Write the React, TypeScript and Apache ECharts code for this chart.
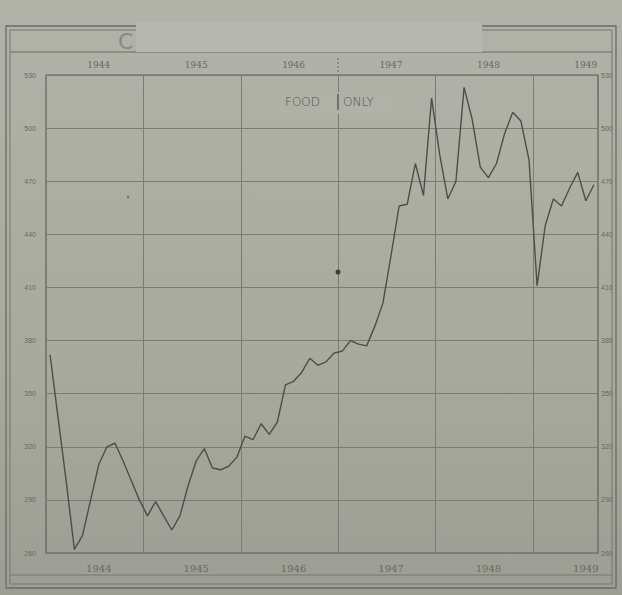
import React, { useEffect, useRef } from "react";
import * as echarts from "echarts";

const years = [1944, 1945, 1946, 1947, 1948, 1949];
const monthsShown = 68; // Jan 1944 .. Aug 1949
const yTicks = [260, 290, 320, 350, 380, 410, 440, 470, 500, 530];
const foodIndex = [
  372, 336, 300, 262, 270, 290, 310, 320, 322, 312, 301, 290,
  281, 289, 281, 273, 281, 298, 312, 319, 308, 307, 309, 314,
  326, 324, 333, 327, 334, 355, 357, 362, 370, 366, 368, 373,
  374, 380, 378, 377, 388, 401, 428, 456, 457, 480, 462, 517,
  485, 460, 470, 523, 505, 478, 472, 480, 497, 509, 504, 482,
  411, 445, 460, 456, 466, 475, 459, 468,
];

const months: string[] = [];
for (let i = 0; i < monthsShown; i++) {
  const y = years[0] + Math.floor(i / 12);
  const m = (i % 12) + 1;
  months.push(`${y}-${m < 10 ? "0" + m : m}`);
}

const INK = "#4c4f48";
const GRID = "#7a7d74";
const LABEL = "#676a62";

export default function App() {
  const ref = useRef<HTMLDivElement>(null);
  useEffect(() => {
    if (!ref.current) return;
    const chart = echarts.init(ref.current, null, { renderer: "svg" });
    const yearLabel = (v: string) => v.slice(0, 4);
    const midYear = (idx: number) => idx % 12 === 6;
    chart.setOption({
      animation: false,
      backgroundColor: "transparent",
      grid: {
        left: 46,
        right: 24,
        top: 75,
        bottom: 42,
        show: true,
        borderColor: "#5e6159",
        borderWidth: 1.2,
      },
      xAxis: [
        {
          type: "category",
          data: months,
          boundaryGap: true,
          position: "bottom",
          axisLine: { show: false },
          axisTick: { show: false },
          axisLabel: {
            interval: (idx: number) => midYear(idx),
            formatter: yearLabel,
            color: LABEL,
            fontSize: 10,
            fontFamily: "DejaVu Serif",
            margin: 10,
          },
          splitLine: {
            show: true,
            interval: (idx: number) => idx % 12 === 0 && idx > 0,
            lineStyle: { color: GRID, width: 1 },
          },
        },
        {
          type: "category",
          data: months,
          boundaryGap: true,
          position: "top",
          axisLine: { show: false },
          axisTick: { show: false },
          axisLabel: {
            interval: (idx: number) => midYear(idx),
            formatter: yearLabel,
            color: LABEL,
            fontSize: 9,
            fontFamily: "DejaVu Serif",
            margin: 6,
          },
          splitLine: { show: false },
        },
      ],
      yAxis: [
        {
          type: "value",
          min: yTicks[0],
          max: yTicks[yTicks.length - 1],
          interval: yTicks[1] - yTicks[0],
          position: "left",
          axisLine: { show: false },
          axisTick: { show: false },
          axisLabel: { color: LABEL, fontSize: 7, margin: 10, fontFamily: "Liberation Sans" },
          splitLine: { show: true, lineStyle: { color: GRID, width: 1 } },
        },
        {
          type: "value",
          min: yTicks[0],
          max: yTicks[yTicks.length - 1],
          interval: yTicks[1] - yTicks[0],
          position: "right",
          axisLine: { show: false },
          axisTick: { show: false },
          axisLabel: { color: LABEL, fontSize: 7, margin: 3, fontFamily: "Liberation Sans" },
          splitLine: { show: false },
        },
      ],
      series: [
        {
          type: "line",
          data: foodIndex,
          xAxisIndex: 0,
          yAxisIndex: 0,
          symbol: "none",
          lineStyle: { color: INK, width: 1.4 },
        },
      ],
      graphic: [
        { type: "rect", shape: { x: 6, y: 26, width: 610, height: 562 }, style: { fill: "none", stroke: "#6a6d65", lineWidth: 1.3 } },
        { type: "rect", shape: { x: 10, y: 30, width: 602, height: 554 }, style: { fill: "none", stroke: "#767970", lineWidth: 1 } },
        { type: "line", shape: { x1: 10, y1: 52, x2: 612, y2: 52 }, style: { stroke: "#6a6d65", lineWidth: 1.2 } },
        { type: "line", shape: { x1: 10, y1: 575, x2: 612, y2: 575 }, style: { stroke: "#767970", lineWidth: 1 } },
        { type: "rect", shape: { x: 136, y: 22, width: 346, height: 30 }, style: { fill: "#b6b8af" }, z: 10 },
        { type: "text", x: 118, y: 30, style: { text: "C", fill: "#878a82", fontSize: 22, fontFamily: "DejaVu Sans" }, z: 11 },
        { type: "line", shape: { x1: 338, y1: 58, x2: 338, y2: 74 }, style: { stroke: "#6a6d65", lineWidth: 1, lineDash: [2, 2] } },
        { type: "rect", shape: { x: 280, y: 92, width: 112, height: 22 }, style: { fill: "#b0b2a7" }, z: 11 },
        { type: "text", x: 285, y: 96, style: { text: "FOOD", fill: "#50534b", fontSize: 12, fontFamily: "DejaVu Sans", fontWeight: 300 }, z: 12 },
        { type: "line", shape: { x1: 338, y1: 94, x2: 338, y2: 110 }, style: { stroke: "#50534b", lineWidth: 1.3 }, z: 12 },
        { type: "text", x: 343, y: 96, style: { text: "ONLY", fill: "#50534b", fontSize: 12, fontFamily: "DejaVu Sans", fontWeight: 300 }, z: 12 },
        { type: "circle", shape: { cx: 338, cy: 272, r: 2.5 }, style: { fill: "#3c3e39" }, z: 12 },
        { type: "circle", shape: { cx: 128, cy: 197, r: 1.2 }, style: { fill: "#6a6d65" }, z: 12 },
      ],
    });
    return () => chart.dispose();
  }, []);
  return (
    <div
      style={{
        position: "fixed",
        left: 0,
        top: 0,
        width: 622,
        height: 595,
        background: "linear-gradient(to bottom, #b1b3a8 0%, #a8aa9e 60%, #9c9e93 100%)",
      }}
    >
      <div ref={ref} style={{ width: 622, height: 595 }} />
    </div>
  );
}
